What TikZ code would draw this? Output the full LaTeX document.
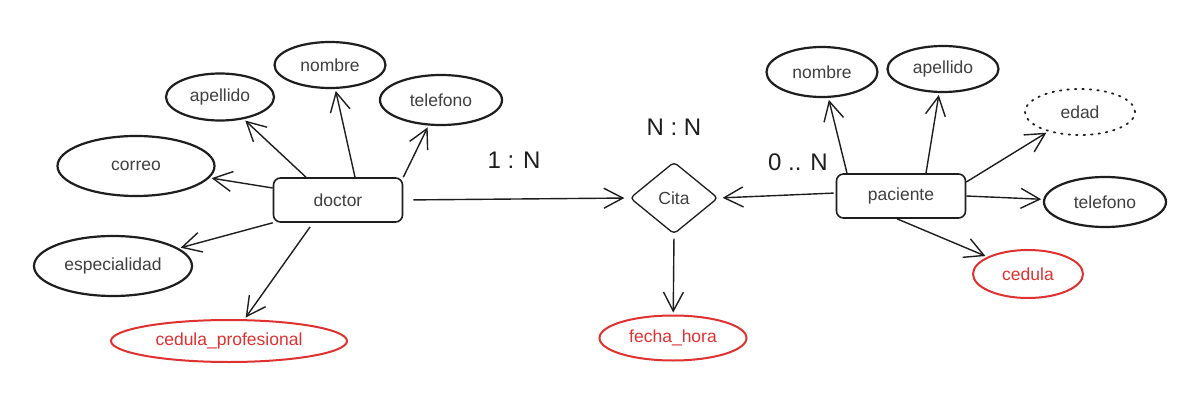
\documentclass[tikz,border=0pt]{standalone}
\usepackage{fontspec}
\setmainfont{Liberation Sans}
\usetikzlibrary{shapes.geometric,arrows.meta}
\definecolor{ink}{HTML}{1E1E1E}
\definecolor{inkred}{HTML}{E03131}

\begin{document}
\begin{tikzpicture}[x=1pt,y=-1pt,
	every node/.style={font=\fontsize{17.5}{20}\selectfont, text=ink!85},
	attr/.style={ellipse, draw=ink, line width=2.2pt, inner sep=0pt},
	keyattr/.style={attr, draw=inkred, line width=2pt, text=inkred},
	derived/.style={attr, line width=1.8pt, line cap=round, dash pattern=on 1.5pt off 6pt},
	entity/.style={rectangle, rounded corners=7pt, draw=ink, line width=1.6pt, minimum width=129pt, minimum height=44pt},
	relation/.style={diamond, aspect=1.22, rounded corners=4pt, draw=ink, line width=1.3pt, inner sep=0pt, minimum width=88pt, minimum height=72pt},
	>={Straight Barb[length=19pt,width=20pt,line width=1.4pt]},
	arr/.style={->, draw=ink, line width=1.4pt, shorten >=2pt},
	card/.style={font=\fontsize{24}{28}\selectfont, text=ink}
]
\useasboundingbox (0,0) rectangle (1203,412);
\fill [white] (0,0) rectangle (1203,412);

%entities and relation
\node [entity] (doctor) at (338,200) {doctor};
\node [entity] (paciente) at (901,196) {paciente};
\node [relation] (cita) at (674,198) {Cita};

%doctor attributes
\node [attr, minimum width=157pt, minimum height=60pt] (dcorreo) at (136,166) {correo};
\node [attr, minimum width=108pt, minimum height=47pt] (dapellido) at (220,97) {apellido};
\node [attr, minimum width=111pt, minimum height=46pt] (dnombre) at (330,65) {nombre};
\node [attr, minimum width=122pt, minimum height=50pt] (dtelefono) at (441,100) {telefono};
\node [attr, minimum width=158pt, minimum height=60pt] (despecialidad) at (113,266) {especialidad};
\node [keyattr, minimum width=236pt, minimum height=42pt] (dcedula) at (229,341) {cedula\_profesional};

%paciente attributes
\node [attr, minimum width=111pt, minimum height=50pt] (pnombre) at (822,72) {nombre};
\node [attr, minimum width=111pt, minimum height=46pt] (papellido) at (943,69) {apellido};
\node [derived, minimum width=110pt, minimum height=46pt] (pedad) at (1080,112) {edad};
\node [attr, minimum width=122pt, minimum height=50pt] (ptelefono) at (1105,202) {telefono};
\node [keyattr, minimum width=110pt, minimum height=48pt] (pcedula) at (1028,274) {cedula};

%relation attribute
\node [keyattr, minimum width=147pt, minimum height=45pt] (fecha) at (673,338) {fecha\_hora};

%cardinalities
\node [card] (cardNN) at (674,127) {N : N};
\node [card] (card1N) at (514,160) {1 : N};
\node [card] (card0N) at (798,162) {0 .. N};

%doctor arrows
\draw [arr] ([yshift=12pt]doctor.west) -- (dcorreo);
\draw [arr] ([xshift=-32pt]doctor.north) -- (dapellido);
\draw [arr] ([xshift=17pt]doctor.north) -- (dnombre);
\draw [arr] (doctor.north east) -- (dtelefono);
\draw [arr] (doctor.south west) -- (despecialidad);
\draw [arr, shorten <=5pt] ([xshift=-25pt]doctor.south) -- (dcedula);

%paciente arrows
\draw [arr] ([xshift=-54pt]paciente.north) -- (pnombre);
\draw [arr] ([xshift=25pt]paciente.north) -- (papellido);
\draw [arr] ([yshift=14pt]paciente.east) -- (pedad);
\draw [arr] (paciente.east) -- (ptelefono);
\draw [arr] ([xshift=-4pt]paciente.south) -- (pcedula);

%relation arrows
\draw [arr, shorten <=10pt, shorten >=5pt] (doctor.east) -- (cita.west);
\draw [arr, shorten <=2pt, shorten >=4pt] ([yshift=3pt]paciente.west) -- (cita.east);
\draw [arr, shorten <=4pt] (cita.south) -- (fecha);
\end{tikzpicture}
\end{document}
